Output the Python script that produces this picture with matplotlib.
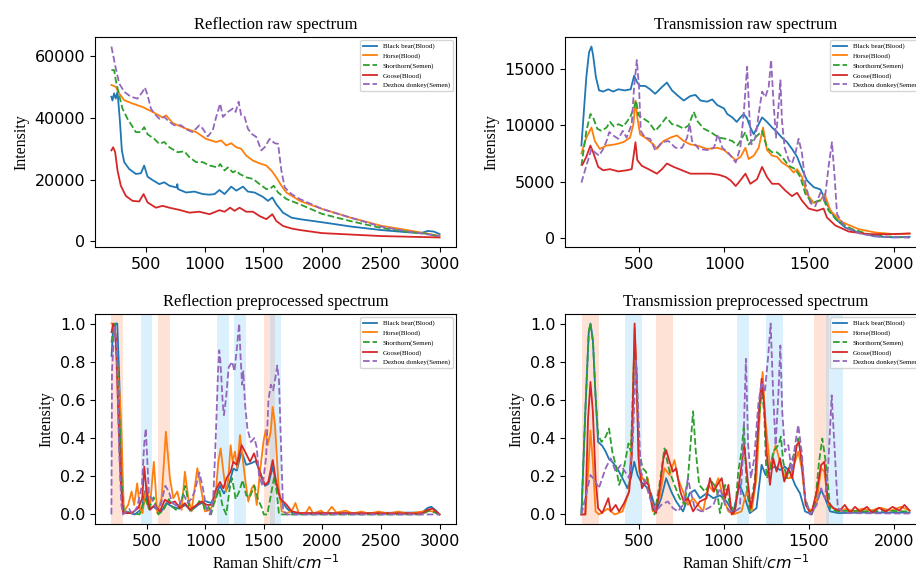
# plot.py
# Raman spectra: reflection / transmission, raw and preprocessed
import matplotlib
matplotlib.use("Agg")
import matplotlib.pyplot as plt
import numpy as np

SERIF = "Liberation Serif"
LABELS = ["Black bear(Blood)", "Horse(Blood)", "Shorthorn(Semen)", "Goose(Blood)", "Dezhou donkey(Semen)"]
COLORS = ["tab:blue", "tab:orange", "tab:green", "tab:red", "tab:purple"]
STYLES = ["-", "-", "--", "-", "--"]

# --- reflection raw (x = Raman shift, y = intensity) ---
rr_bear = [(206, 46700), (215, 45500), (229, 47800), (243, 46100), (258, 48300), (278, 39100), (295, 29400),
           (315, 25600), (357, 23400), (414, 21800), (457, 22000), (485, 24500), (514, 20900), (557, 19800),
           (614, 18500), (656, 19100), (699, 18000), (762, 17400), (767, 18500), (773, 16900), (842, 15800),
           (913, 16100), (984, 15300), (1041, 15100), (1084, 15300), (1126, 16600), (1169, 15300), (1226, 17700),
           (1269, 16400), (1326, 17700), (1368, 16100), (1425, 15800), (1496, 14400), (1539, 13100), (1576, 14200),
           (1610, 12000), (1667, 9300), (1739, 7700), (1810, 7200), (2000, 6200), (2250, 4800), (2500, 3700),
           (2750, 2900), (2850, 2800), (2900, 3400), (2950, 3200), (3000, 2400)]
rr_horse = [(206, 50500), (243, 49900), (272, 47800), (315, 45600), (386, 44500), (471, 43400), (557, 41800),
            (642, 40000), (671, 40700), (728, 38200), (842, 36400), (927, 35300), (1012, 33100), (1098, 32100),
            (1141, 32600), (1183, 31000), (1226, 31700), (1269, 30400), (1311, 29900), (1354, 27700), (1411, 26100),
            (1468, 25200), (1525, 24500), (1568, 22900), (1610, 20700), (1653, 18000), (1696, 15800), (1810, 13100),
            (2000, 10500), (2250, 7600), (2500, 5100), (2750, 3500), (3000, 1800)]
rr_shorthorn = [(206, 55300), (229, 55300), (243, 52100), (272, 47200), (300, 42900), (343, 39600), (414, 35300),
                (457, 35300), (485, 36900), (514, 34600), (571, 33100), (614, 31500), (656, 32100), (699, 30400),
                (770, 28800), (827, 29100), (870, 27200), (927, 25600), (984, 25600), (1041, 24500), (1112, 23900),
                (1132, 25000), (1169, 22900), (1197, 23900), (1240, 22300), (1269, 22900), (1297, 21800),
                (1354, 20700), (1411, 20200), (1468, 18500), (1525, 16900), (1553, 16900), (1588, 18000),
                (1625, 15800), (1696, 13700), (1810, 12000), (2000, 8900), (2250, 6500), (2500, 4400),
                (2750, 3000), (2900, 2500), (3000, 1500)]
rr_goose = [(206, 29400), (221, 30400), (238, 28800), (258, 22900), (286, 18000), (329, 14700), (386, 13100),
            (443, 12900), (480, 15300), (514, 12600), (585, 10900), (642, 11500), (699, 10900), (784, 10200),
            (870, 9300), (955, 9600), (1041, 8800), (1126, 10100), (1169, 9600), (1217, 10900), (1254, 9900),
            (1297, 10900), (1354, 9600), (1411, 9600), (1468, 8200), (1525, 7200), (1576, 8800), (1610, 6600),
            (1667, 5000), (1739, 4200), (1810, 3700), (2000, 2700), (2500, 1750), (3000, 1300)]
rr_donkey = [(206, 62900), (243, 55900), (272, 51000), (315, 48300), (372, 46700), (428, 46100), (471, 48300),
             (491, 49700), (514, 47200), (542, 42900), (571, 41300), (614, 39600), (656, 40200), (699, 38600),
             (742, 37500), (799, 37500), (847, 36100), (898, 35300), (955, 37500), (984, 36400), (1027, 33900),
             (1069, 35900), (1098, 40200), (1132, 44500), (1155, 40200), (1197, 41800), (1240, 42900),
             (1263, 41800), (1289, 45100), (1311, 40700), (1340, 40200), (1368, 36400), (1397, 34800),
             (1440, 33700), (1482, 29400), (1511, 30400), (1553, 33100), (1596, 31700), (1625, 31500),
             (1653, 22900), (1682, 17400), (1739, 15300), (1810, 13700), (2000, 10500), (2250, 7600),
             (2500, 4800), (2750, 3100), (3000, 1750)]

# --- transmission raw ---
tr_bear = [(159, 8200), (188, 14300), (204, 16500), (218, 17000), (228, 16200), (244, 14300), (263, 13100),
           (287, 13000), (317, 13200), (346, 13000), (376, 13200), (415, 13100), (449, 13200), (469, 14400),
           (488, 13800), (504, 13500), (534, 13500), (563, 13200), (593, 12800), (633, 13400), (662, 13800),
           (692, 13100), (721, 12700), (761, 12200), (800, 12600), (830, 12700), (860, 12200), (899, 12100),
           (929, 12300), (958, 11800), (998, 11500), (1017, 11000), (1047, 10700), (1073, 10300), (1094, 10700),
           (1114, 11000), (1134, 10600), (1153, 9800), (1173, 9200), (1192, 9800), (1222, 10700), (1251, 10300),
           (1281, 9800), (1310, 9400), (1339, 8900), (1369, 8500), (1398, 7900), (1428, 7200), (1457, 6100),
           (1486, 5100), (1526, 4500), (1565, 4300), (1584, 3700), (1614, 2700), (1653, 1700), (1712, 900),
           (1790, 470), (1888, 120), (2006, 30), (2090, 90)]
tr_horse = [(159, 7500), (188, 8900), (218, 9800), (238, 8600), (267, 7900), (307, 8200), (356, 8300),
            (406, 8500), (445, 8900), (465, 10100), (477, 12200), (488, 10700), (504, 9200), (544, 8800),
            (583, 8300), (603, 7900), (642, 8600), (682, 8900), (721, 9100), (761, 8600), (800, 8300), (840, 8200),
            (899, 7900), (958, 8000), (998, 7800), (1037, 7300), (1067, 6900), (1096, 7200), (1124, 8000),
            (1143, 7000), (1173, 7300), (1202, 8000), (1228, 9800), (1251, 7800), (1281, 7300), (1310, 7200),
            (1339, 6700), (1379, 6300), (1408, 5800), (1428, 6100), (1457, 5400), (1486, 3900), (1526, 3100),
            (1565, 3300), (1590, 3900), (1624, 2400), (1692, 1400), (1790, 770), (1888, 470), (2006, 320),
            (2090, 380)]
tr_shorthorn = [(159, 6400), (188, 9500), (212, 11000), (228, 10700), (252, 9700), (277, 9500), (307, 9800),
                (327, 10300), (350, 9900), (376, 10100), (406, 9900), (445, 10700), (469, 11600), (481, 12200),
                (494, 10900), (524, 10600), (554, 10300), (593, 9500), (623, 10000), (658, 10700), (692, 10100),
                (721, 10000), (761, 9700), (790, 10000), (820, 11200), (840, 10400), (879, 9700), (919, 9400),
                (968, 8900), (1008, 8800), (1047, 8600), (1077, 8200), (1094, 8600), (1124, 9400), (1143, 8300),
                (1173, 8800), (1202, 9200), (1222, 9500), (1251, 8000), (1281, 7600), (1310, 7600), (1339, 7200),
                (1379, 6400), (1418, 6100), (1447, 5400), (1477, 3900), (1516, 3100), (1555, 3300), (1584, 3400),
                (1614, 2400), (1673, 1400), (1751, 770), (1849, 320), (1947, 120), (2090, 30)]
tr_goose = [(165, 6500), (188, 7200), (212, 8200), (228, 7600), (258, 6300), (287, 6000), (327, 6100),
            (376, 5900), (425, 6000), (455, 6100), (469, 7600), (477, 8500), (488, 6900), (514, 6400), (554, 6100),
            (603, 5700), (633, 6100), (662, 6600), (702, 6300), (751, 6000), (800, 5700), (860, 5700), (919, 5700),
            (968, 5600), (1008, 5400), (1037, 5100), (1067, 4600), (1094, 5100), (1124, 5700), (1153, 4800),
            (1192, 5200), (1222, 6300), (1251, 5400), (1281, 4800), (1320, 4800), (1359, 4200), (1398, 3700),
            (1428, 4000), (1457, 3300), (1496, 2600), (1545, 2400), (1584, 2600), (1604, 1800), (1653, 1100),
            (1731, 560), (1849, 320), (1967, 320), (2090, 380)]
tr_donkey = [(159, 4900), (188, 6400), (218, 7900), (238, 7600), (263, 7300), (287, 7900), (307, 8600),
             (323, 9400), (346, 9100), (376, 8800), (402, 9500), (425, 8900), (455, 10100), (469, 13400),
             (485, 15800), (498, 13400), (508, 9500), (534, 8900), (563, 8800), (593, 7800), (633, 8500),
             (672, 8600), (712, 8000), (751, 8000), (781, 8900), (796, 10100), (810, 8600), (850, 7900),
             (899, 7800), (939, 8000), (962, 9200), (988, 8000), (1027, 7500), (1067, 6700), (1094, 8000),
             (1114, 11000), (1134, 15200), (1147, 11000), (1159, 8300), (1183, 8900), (1202, 11000),
             (1222, 13000), (1241, 12500), (1261, 13400), (1275, 15800), (1290, 11900), (1304, 8900),
             (1320, 11900), (1330, 14000), (1339, 10400), (1355, 8000), (1379, 6900), (1398, 6600), (1418, 7500),
             (1437, 8800), (1457, 7500), (1477, 4800), (1506, 3100), (1535, 2800), (1565, 4000), (1590, 3300),
             (1614, 6400), (1633, 8500), (1649, 5400), (1663, 2100), (1712, 900), (1810, 320), (1927, 90),
             (2090, 30)]

# --- reflection preprocessed ---
rp_bear = [(201, 0.83), (215, 0.97), (238, 1.0), (250, 1.0), (265, 0.75), (285, 0.30), (300, 0.02), (400, 0.0),
           (460, 0.03), (485, 0.12), (520, 0.03), (560, 0.04), (620, 0.01), (670, 0.06), (720, 0.04), (780, 0.03),
           (830, 0.05), (880, 0.02), (940, 0.05), (1000, 0.07), (1050, 0.06), (1090, 0.10), (1126, 0.15),
           (1160, 0.11), (1200, 0.15), (1240, 0.24), (1270, 0.23), (1310, 0.33), (1350, 0.26), (1400, 0.27),
           (1430, 0.28), (1470, 0.22), (1510, 0.15), (1540, 0.16), (1576, 0.25), (1610, 0.15), (1650, 0.07),
           (1700, 0.03), (1750, 0.005), (2850, 0.01), (2900, 0.035), (2930, 0.04), (2970, 0.02), (3000, 0.0)]
rp_horse = [(201, 1.0), (229, 0.99), (258, 0.71), (272, 0.615), (286, 0.43), (306, 0.016), (343, 0.05),
            (372, 0.12), (394, 0.05), (420, 0.163), (443, 0.033), (465, 0.007), (500, 0.155), (528, 0.033),
            (562, 0.276), (591, 0.007), (628, 0.085), (665, 0.433), (699, 0.19), (728, 0.085), (762, 0.12),
            (799, 0.024), (827, 0.224), (856, 0.085), (884, 0.016), (933, 0.242), (964, 0.137), (998, 0.016),
            (1041, 0.024), (1084, 0.068), (1112, 0.276), (1132, 0.346), (1155, 0.224), (1178, 0.12), (1197, 0.181),
            (1217, 0.363), (1234, 0.276), (1254, 0.329), (1274, 0.242), (1297, 0.416), (1317, 0.311), (1340, 0.19),
            (1368, 0.068), (1397, 0.137), (1417, 0.155), (1440, 0.05), (1468, 0.224), (1497, 0.38), (1516, 0.442),
            (1533, 0.363), (1559, 0.433), (1576, 0.563), (1596, 0.468), (1625, 0.155), (1653, 0.016),
            (1696, 0.007), (1740, 0.02), (1770, 0.06), (1800, 0.005), (1860, 0.01), (1890, 0.04), (1920, 0.005),
            (1990, 0.02), (2030, 0.0), (2080, 0.04), (2120, 0.01), (2200, 0.02), (2260, 0.005), (2330, 0.015),
            (2400, 0.005), (2480, 0.015), (2560, 0.005), (2650, 0.015), (2720, 0.005), (2800, 0.01),
            (2900, 0.02), (2950, 0.015), (3000, 0.0)]
rp_shorthorn = [(201, 0.9), (215, 0.97), (229, 1.0), (258, 0.71), (286, 0.19), (306, 0.016), (440, 0.0),
                (470, 0.05), (490, 0.08), (520, 0.03), (560, 0.09), (600, 0.0), (650, 0.03), (690, 0.08),
                (720, 0.04), (760, 0.02), (800, 0.08), (830, 0.15), (870, 0.02), (920, 0.04), (950, 0.07),
                (980, 0.06), (1000, 0.02), (1030, 0.04), (1050, 0.0), (1080, 0.07), (1120, 0.13), (1150, 0.04),
                (1180, 0.0), (1210, 0.14), (1230, 0.19), (1260, 0.08), (1290, 0.12), (1320, 0.18), (1350, 0.10),
                (1380, 0.09), (1420, 0.15), (1450, 0.08), (1480, 0.04), (1500, 0.0), (1530, 0.0), (1560, 0.10),
                (1590, 0.20), (1610, 0.12), (1630, 0.0), (2850, 0.0), (2910, 0.02), (2960, 0.01), (3000, 0.0)]
rp_goose = [(201, 0.955), (215, 1.0), (238, 0.92), (258, 0.54), (278, 0.19), (300, 0.007), (372, 0.007),
            (428, 0.033), (463, 0.085), (480, 0.25), (500, 0.12), (528, 0.024), (571, 0.05), (614, 0.016),
            (656, 0.077), (699, 0.059), (742, 0.068), (784, 0.033), (827, 0.059), (870, 0.024), (927, 0.05),
            (970, 0.068), (1012, 0.05), (1055, 0.05), (1084, 0.12), (1126, 0.17), (1155, 0.137), (1183, 0.19),
            (1217, 0.224), (1240, 0.276), (1269, 0.26), (1311, 0.363), (1340, 0.329), (1383, 0.276), (1417, 0.32),
            (1440, 0.276), (1482, 0.19), (1511, 0.155), (1539, 0.172), (1576, 0.285), (1605, 0.172), (1639, 0.085),
            (1696, 0.05), (1739, 0.016), (1810, 0.007), (2850, 0.005), (2900, 0.025), (2940, 0.03), (2980, 0.01),
            (3000, 0.0)]
rp_donkey = [(200, 0.0), (205, 0.75), (225, 0.98), (245, 0.9), (265, 0.35), (285, 0.05), (300, 0.0), (350, 0.03),
             (380, 0.0), (420, 0.04), (460, 0.15), (480, 0.37), (493, 0.45), (505, 0.3), (520, 0.1), (550, 0.08),
             (580, 0.03), (620, 0.05), (660, 0.15), (690, 0.12), (720, 0.06), (770, 0.04), (820, 0.1), (850, 0.06),
             (880, 0.08), (910, 0.12), (950, 0.22), (980, 0.14), (1010, 0.03), (1040, 0.0), (1070, 0.1),
             (1090, 0.4), (1110, 0.75), (1120, 0.86), (1130, 0.8), (1150, 0.58), (1160, 0.52), (1180, 0.62),
             (1200, 0.77), (1230, 0.8), (1250, 0.75), (1275, 0.9), (1290, 1.0), (1300, 0.85), (1315, 0.68),
             (1325, 0.75), (1340, 0.58), (1360, 0.45), (1390, 0.38), (1420, 0.4), (1440, 0.35), (1460, 0.2),
             (1490, 0.15), (1520, 0.3), (1540, 0.6), (1560, 0.68), (1580, 0.65), (1600, 0.72), (1615, 0.78),
             (1630, 0.7), (1650, 0.3), (1665, 0.02), (1700, 0.0), (3000, 0.0)]

# --- transmission preprocessed ---
tp_bear = [(165, 0.0), (188, 0.54), (208, 0.955), (218, 1.0), (232, 0.92), (248, 0.62), (263, 0.38), (287, 0.36),
           (307, 0.33), (327, 0.29), (346, 0.276), (376, 0.24), (406, 0.19), (435, 0.137), (455, 0.19),
           (475, 0.276), (494, 0.207), (514, 0.172), (544, 0.146), (573, 0.111), (603, 0.016), (633, 0.085),
           (662, 0.19), (692, 0.12), (721, 0.068), (761, 0.016), (800, 0.111), (830, 0.128), (860, 0.085),
           (899, 0.111), (939, 0.085), (978, 0.1), (1017, 0.068), (1057, 0.007), (1065, 0.05), (1094, 0.155),
           (1124, 0.085), (1153, 0.007), (1192, 0.033), (1222, 0.26), (1245, 0.207), (1271, 0.24), (1300, 0.25),
           (1330, 0.233), (1359, 0.25), (1388, 0.224), (1418, 0.155), (1447, 0.111), (1477, 0.016), (1516, 0.0),
           (1545, 0.068), (1571, 0.128), (1594, 0.085), (1624, 0.016), (1673, 0.007), (1800, 0.01),
           (1950, 0.01), (2090, 0.01)]
tp_horse = [(165, 0.0), (188, 0.0), (208, 0.276), (218, 0.44), (232, 0.276), (248, 0.016), (267, 0.0),
            (320, 0.03), (360, 0.0), (406, 0.016), (445, 0.12), (465, 0.54), (477, 0.972), (488, 0.711),
            (504, 0.224), (534, 0.172), (554, 0.19), (583, 0.016), (623, 0.085), (652, 0.242), (682, 0.207),
            (711, 0.285), (731, 0.19), (761, 0.12), (790, 0.05), (820, 0.085), (850, 0.05), (879, 0.016),
            (909, 0.155), (939, 0.12), (968, 0.19), (998, 0.085), (1027, 0.016), (1057, 0.0), (1104, 0.016),
            (1134, 0.12), (1163, 0.016), (1192, 0.19), (1212, 0.54), (1228, 0.746), (1245, 0.485), (1271, 0.25),
            (1290, 0.311), (1304, 0.363), (1330, 0.276), (1359, 0.19), (1388, 0.19), (1418, 0.276), (1437, 0.329),
            (1457, 0.242), (1481, 0.05), (1516, 0.016), (1545, 0.068), (1571, 0.242), (1590, 0.224), (1614, 0.05),
            (1673, 0.016), (1720, 0.03), (1760, 0.015), (1810, 0.03), (1860, 0.02), (1920, 0.035), (1980, 0.02),
            (2040, 0.04), (2090, 0.02)]
tp_shorthorn = [(165, 0.0), (188, 0.54), (208, 0.955), (218, 1.0), (234, 0.885), (248, 0.62), (263, 0.415),
                (283, 0.38), (307, 0.407), (327, 0.45), (346, 0.329), (366, 0.259), (386, 0.155), (406, 0.207),
                (425, 0.294), (441, 0.372), (455, 0.329), (475, 0.85), (488, 0.763), (504, 0.329), (524, 0.242),
                (544, 0.224), (563, 0.12), (593, 0.0), (623, 0.155), (652, 0.346), (682, 0.224), (711, 0.155),
                (741, 0.085), (771, 0.05), (790, 0.19), (820, 0.54), (836, 0.329), (856, 0.155), (889, 0.12),
                (929, 0.172), (958, 0.137), (978, 0.007), (1008, 0.155), (1037, 0.05), (1067, 0.016), (1085, 0.224),
                (1104, 0.329), (1118, 0.468), (1134, 0.155), (1153, 0.016), (1183, 0.19), (1202, 0.45),
                (1222, 0.659), (1237, 0.537), (1251, 0.19), (1271, 0.224), (1290, 0.329), (1320, 0.363),
                (1335, 0.407), (1349, 0.276), (1369, 0.19), (1388, 0.26), (1418, 0.329), (1437, 0.398),
                (1453, 0.311), (1477, 0.085), (1506, 0.007), (1535, 0.05), (1559, 0.276), (1578, 0.398),
                (1598, 0.276), (1624, 0.033), (1663, 0.016), (1750, 0.02), (1850, 0.015), (1950, 0.02),
                (2090, 0.015)]
tp_goose = [(165, 0.0), (188, 0.0), (204, 0.50), (218, 0.694), (232, 0.54), (248, 0.19), (263, 0.033),
            (287, 0.007), (307, 0.05), (323, 0.085), (337, 0.016), (366, 0.05), (386, 0.016), (415, 0.059),
            (445, 0.12), (461, 0.311), (477, 1.0), (488, 0.746), (500, 0.294), (520, 0.137), (540, 0.172),
            (559, 0.155), (583, 0.033), (603, 0.007), (627, 0.155), (646, 0.294), (662, 0.337), (682, 0.276),
            (702, 0.224), (721, 0.242), (745, 0.12), (765, 0.068), (790, 0.085), (820, 0.016), (860, 0.068),
            (899, 0.085), (919, 0.19), (942, 0.12), (962, 0.155), (988, 0.19), (1008, 0.085), (1027, 0.155),
            (1047, 0.0), (1065, 0.016), (1094, 0.19), (1120, 0.363), (1139, 0.19), (1159, 0.033), (1183, 0.155),
            (1206, 0.54), (1222, 0.711), (1237, 0.572), (1251, 0.329), (1271, 0.155), (1290, 0.294), (1310, 0.224),
            (1330, 0.294), (1355, 0.172), (1379, 0.242), (1402, 0.19), (1428, 0.363), (1441, 0.38), (1457, 0.276),
            (1481, 0.05), (1512, 0.0), (1545, 0.12), (1571, 0.259), (1590, 0.276), (1610, 0.068), (1643, 0.033),
            (1680, 0.02), (1710, 0.05), (1740, 0.01), (1770, 0.04), (1800, 0.015), (1840, 0.04), (1870, 0.01),
            (1910, 0.035), (1950, 0.015), (1990, 0.04), (2030, 0.02), (2060, 0.05), (2090, 0.02)]
tp_donkey = [(165, 0.0), (188, 0.085), (218, 0.207), (248, 0.172), (267, 0.137), (307, 0.242), (337, 0.294),
             (366, 0.224), (396, 0.259), (421, 0.224), (445, 0.19), (465, 0.363), (485, 0.807), (498, 0.54),
             (514, 0.224), (544, 0.155), (573, 0.068), (603, 0.016), (633, 0.05), (672, 0.068), (702, 0.033),
             (731, 0.016), (761, 0.05), (790, 0.19), (806, 0.12), (830, 0.033), (869, 0.016), (909, 0.033),
             (939, 0.05), (978, 0.137), (1008, 0.05), (1037, 0.016), (1065, 0.016), (1094, 0.033), (1114, 0.329),
             (1130, 0.815), (1143, 0.363), (1159, 0.19), (1179, 0.294), (1202, 0.572), (1222, 0.694),
             (1241, 0.642), (1261, 0.833), (1275, 1.0), (1290, 0.624), (1304, 0.363), (1320, 0.624),
             (1332, 0.885), (1343, 0.54), (1359, 0.329), (1379, 0.363), (1398, 0.224), (1418, 0.363),
             (1437, 0.468), (1457, 0.329), (1477, 0.085), (1506, 0.0), (1545, 0.05), (1571, 0.137), (1594, 0.085),
             (1614, 0.276), (1633, 0.624), (1649, 0.363), (1669, 0.033), (1712, 0.007), (2090, 0.005)]

# highlighted bands (Raman shift ranges)
refl_red_bands = [(200, 300), (600, 700), (1500, 1600)]
refl_blue_bands = [(450, 550), (1100, 1200), (1250, 1350), (1550, 1650)]
trans_red_bands = [(170, 270), (600, 700), (1530, 1620)]
trans_blue_bands = [(420, 520), (1080, 1150), (1250, 1350), (1600, 1700)]


def draw(ax, series, title, xlabel=None, bands=None):
    if bands is not None:
        reds, blues = bands
        for a, b in reds:
            ax.axvspan(a, b, color="lightsalmon", alpha=0.3, lw=0, zorder=0)
        for a, b in blues:
            ax.axvspan(a, b, color="lightskyblue", alpha=0.3, lw=0, zorder=0)
    for pts, lab, col, ls in zip(series, LABELS, COLORS, STYLES):
        arr = np.array(pts, dtype=float)
        ax.plot(arr[:, 0], arr[:, 1], color=col, ls=ls, lw=1.3, label=lab)
    ax.set_title(title, fontfamily=SERIF, fontsize=12)
    ax.set_ylabel("Intensity", fontfamily=SERIF, fontsize=11.5)
    if xlabel:
        ax.set_xlabel(xlabel, fontfamily=SERIF, fontsize=11.5)
    ax.tick_params(labelsize=11.5)
    ax.legend(loc="upper right", prop={"family": SERIF, "size": 5})


fig = plt.figure(figsize=(9.16, 5.74), dpi=100)
W, H = 361 / 916, 210 / 574
ax1 = fig.add_axes([95 / 916, 1 - 247 / 574, W, H])
ax2 = fig.add_axes([565 / 916, 1 - 247 / 574, W, H])
ax3 = fig.add_axes([95 / 916, 1 - 524 / 574, W, H])
ax4 = fig.add_axes([565 / 916, 1 - 524 / 574, W, H])

xl = r"Raman Shift/$cm^{-1}$"
draw(ax1, [rr_bear, rr_horse, rr_shorthorn, rr_goose, rr_donkey], "Reflection raw spectrum")
draw(ax2, [tr_bear, tr_horse, tr_shorthorn, tr_goose, tr_donkey], "Transmission raw spectrum")
draw(ax3, [rp_bear, rp_horse, rp_shorthorn, rp_goose, rp_donkey], "Reflection preprocessed spectrum",
     xl, (refl_red_bands, refl_blue_bands))
draw(ax4, [tp_bear, tp_horse, tp_shorthorn, tp_goose, tp_donkey], "Transmission preprocessed spectrum",
     xl, (trans_red_bands, trans_blue_bands))

for ax in (ax1, ax3):
    ax.set_xticks([500, 1000, 1500, 2000, 2500, 3000])
for ax in (ax2, ax4):
    ax.set_xticks([500, 1000, 1500, 2000])
ax1.set_yticks([0, 20000, 40000, 60000])
ax2.set_yticks([0, 5000, 10000, 15000])

fig.savefig("out.png", dpi=100, facecolor="white")
